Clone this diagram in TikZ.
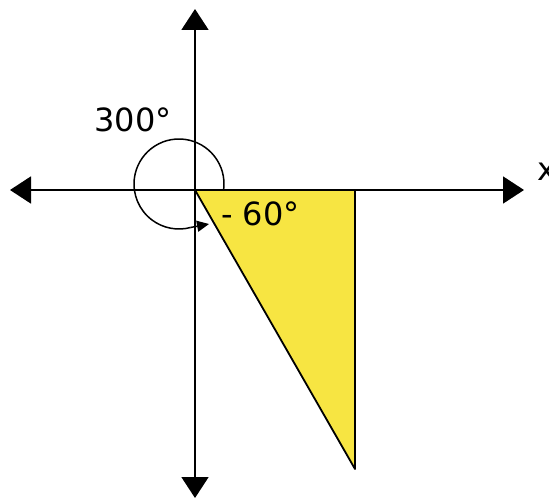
\documentclass[tikz,border=0pt]{standalone}
\usepackage{fontspec}
\setmainfont{DejaVu Sans}
\usetikzlibrary{arrows.meta}
\definecolor{triyellow}{RGB}{247,229,66}
\begin{document}
\begin{tikzpicture}[x=1pt,y=1pt,
  axis/.style={line width=1.8pt,-{Triangle[length=21pt,width=27pt]}},
  lbl/.style={font=\fontsize{32}{38}\selectfont,inner sep=0pt}]
\useasboundingbox (0,0) rectangle (549,499);
\coordinate (O) at (195,309);
\coordinate (L) at (10,309);
\coordinate (R) at (524,309);
\coordinate (T) at (195,490);
\coordinate (B) at (195,1);
\coordinate (A) at (355,309);
\coordinate (C) at (355,30);
\coordinate (K) at (179,315);
\coordinate (E) at (209,275);
\draw[axis] (O) -- (L);
\draw[axis] (O) -- (R);
\draw[axis] (O) -- (T);
\draw[axis] (O) -- (B);
\filldraw[fill=triyellow,draw=black,line width=1.8pt,line join=round] (O) -- (A) -- (C) -- cycle;
\draw[line width=1.5pt] (K) ++(-7:45) arc[start angle=-7,end angle=285,radius=45];
\draw[line width=1.5pt,-{Triangle[length=12pt,width=11pt]}] (K) ++(285:45) -- (E);
\node[lbl] (a300) at (133,379) {300°};
\node[lbl,anchor=west] (a60) at (221,285) {- 60°};
\node[lbl,anchor=west] (xl) at (537,327) {x};
\end{tikzpicture}
\end{document}
